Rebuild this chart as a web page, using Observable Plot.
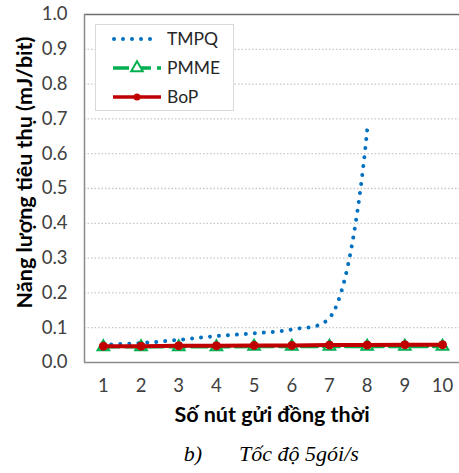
<!DOCTYPE html>
<html>
<head>
<meta charset="utf-8">
<script src="https://cdn.jsdelivr.net/npm/d3@7"></script>
<script src="https://cdn.jsdelivr.net/npm/@observablehq/plot@0.6"></script>
<style>
  body { margin: 0; background: #fff; }
  #wrap { position: relative; width: 459px; height: 473px; }
  #legend { position: absolute; left: 95px; top: 24px; width: 137px; height: 85px; background: #fff; border: 1px solid #d9d9d9; }
  #legend svg { display: block; }
</style>
</head>
<body>
<div id="wrap"><div id="legend"></div></div>
<script>
const nodes = [1, 2, 3, 4, 5, 6, 7, 8, 9, 10];
const tmpqNodes = [1, 2, 3, 4, 5, 6, 7, 8];
const tmpqValues = [0.051, 0.056, 0.065, 0.076, 0.084, 0.095, 0.128, 0.668];
const pmmeValues = [0.045, 0.045, 0.045, 0.045, 0.046, 0.046, 0.046, 0.046, 0.046, 0.046];
const bopValues = [0.047, 0.047, 0.048, 0.048, 0.049, 0.049, 0.050, 0.050, 0.051, 0.051];
const yTicks = [0, 0.1, 0.2, 0.3, 0.4, 0.5, 0.6, 0.7, 0.8, 0.9, 1.0];
const gridTicks = [0.1, 0.2, 0.3, 0.4, 0.5, 0.6, 0.7, 0.8, 0.9];
const seriesNames = ["TMPQ", "PMME", "BoP"];
const seriesColors = ["#0070C0", "#00B050", "#C00000"];
const xDomain = [0.5, 10.45];

const tmpq = tmpqNodes.map((x, i) => ({x, y: tmpqValues[i]}));
const pmme = nodes.map((x, i) => ({x, y: pmmeValues[i]}));
const bop = nodes.map((x, i) => ({x, y: bopValues[i]}));

const tickFont = "Lato, 'Open Sans', sans-serif";
const serif = "'Liberation Serif', 'Times New Roman', serif";

const chart = Plot.plot({
  width: 459,
  height: 473,
  marginLeft: 84,
  marginRight: 0,
  marginTop: 14,
  marginBottom: 111,
  style: {fontFamily: tickFont, background: "#fff", overflow: "visible"},
  x: {domain: xDomain},
  y: {domain: [0, 1]},
  marks: [
    Plot.ruleY(gridTicks, {stroke: "#c8c8c8", strokeWidth: 1.3, strokeDasharray: "1.5 2"}),
    Plot.ruleY([1], {stroke: "#6e6e6e", strokeWidth: 1.5}),
    Plot.ruleY([0], {stroke: "#8a8a8a", strokeWidth: 1.5}),
    Plot.ruleX([xDomain[0]], {stroke: "#8a8a8a", strokeWidth: 1.5}),
    Plot.axisY({ticks: yTicks, tickSize: 0, tickPadding: 17, tickFormat: d3.format(".1f"), label: null, fontSize: 18.5, fill: "#404040"}),
    Plot.axisX({ticks: nodes, tickSize: 0, tickPadding: 16, tickFormat: d => String(d), label: null, fontSize: 18.5, fill: "#404040"}),
    Plot.text(["Năng lượng tiêu thụ (mJ/bit)"], {frameAnchor: "left", textAnchor: "middle", rotate: -90, dx: -59.5, dy: -16, fontWeight: "bold", fontSize: 21.5, fill: "#000"}),
    Plot.text(["Số nút gửi đồng thời"], {frameAnchor: "bottom", textAnchor: "middle", dy: 59, fontWeight: "bold", fontSize: 21.5, fill: "#000"}),
    Plot.text(["b)"], {frameAnchor: "bottom", textAnchor: "middle", dx: -79, dy: 98, fontStyle: "italic", fontFamily: serif, fontSize: 22, fill: "#000"}),
    Plot.text(["Tốc độ 5gói/s"], {frameAnchor: "bottom", textAnchor: "middle", dx: 27, dy: 98, fontStyle: "italic", fontFamily: serif, fontSize: 22, fill: "#000"}),
    Plot.line(tmpq, {x: "x", y: "y", curve: "catmull-rom", stroke: seriesColors[0], strokeWidth: 4, strokeDasharray: "0.01 8.99", strokeLinecap: "round"}),
    Plot.line(pmme, {x: "x", y: "y", stroke: seriesColors[1], strokeWidth: 3.5, strokeDasharray: "16 6"}),
    Plot.dot(pmme, {x: "x", y: "y", symbol: "triangle", r: 4.3, stroke: seriesColors[1], strokeWidth: 2, fill: "#fff"}),
    Plot.line(bop, {x: "x", y: "y", stroke: seriesColors[2], strokeWidth: 4}),
    Plot.dot(bop, {x: "x", y: "y", r: 4, fill: seriesColors[2], stroke: seriesColors[2], strokeWidth: 1})
  ]
});
document.getElementById("wrap").prepend(chart);

// make the dotted TMPQ line end on a dot (pattern period 9)
chart.querySelectorAll("path").forEach(p => {
  const cs = getComputedStyle(p).strokeDasharray || "";
  const nums = (cs.match(/[\d.]+/g) || []).map(Number);
  if (nums.length >= 2 && Math.abs(nums[0] - 0.01) < 1e-3 && Math.abs(nums[1] - 8.99) < 1e-3) {
    const L = p.getTotalLength() - 0.5;
    const off = (9 - (L % 9)) % 9;
    p.style.strokeDashoffset = off + "px";
  }
});

// legend
const rowsY = [14, 43, 72];
let svg = `<svg width="137" height="85" xmlns="http://www.w3.org/2000/svg" style="font-family:${tickFont}">`;
svg += `<line x1="18" x2="63" y1="${rowsY[0]}" y2="${rowsY[0]}" stroke="${seriesColors[0]}" stroke-width="4" stroke-dasharray="0 9" stroke-linecap="round"/>`;
svg += `<line x1="17" x2="65" y1="${rowsY[1]}" y2="${rowsY[1]}" stroke="${seriesColors[1]}" stroke-width="3.5" stroke-dasharray="16 6"/>`;
svg += `<path transform="translate(41,${rowsY[1]})" d="${d3.symbol(d3.symbolTriangle, Math.PI * 4.3 * 4.3)()}" fill="#fff" stroke="${seriesColors[1]}" stroke-width="2"/>`;
svg += `<line x1="17" x2="65" y1="${rowsY[2]}" y2="${rowsY[2]}" stroke="${seriesColors[2]}" stroke-width="3.5"/>`;
svg += `<circle cx="41" cy="${rowsY[2]}" r="3.5" fill="${seriesColors[2]}"/>`;
seriesNames.forEach((n, i) => {
  svg += `<text x="71" y="${rowsY[i]}" dy="0.35em" font-size="17.5" fill="#262626">${n}</text>`;
});
svg += `</svg>`;
document.getElementById("legend").innerHTML = svg;
</script>
</body>
</html>
